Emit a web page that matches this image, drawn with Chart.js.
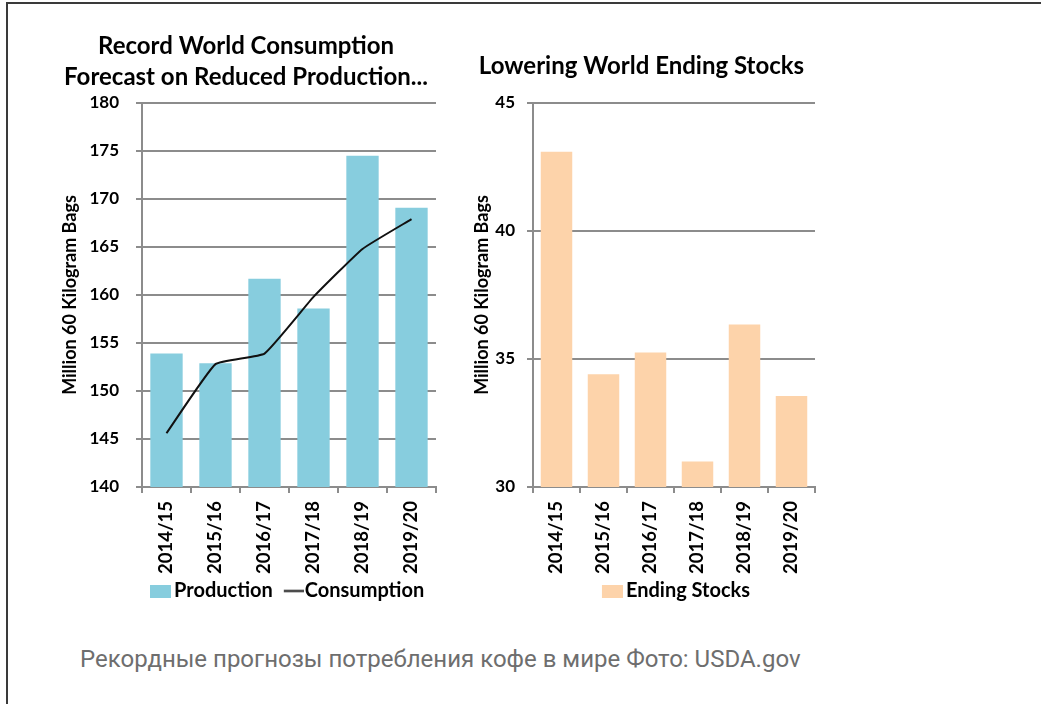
<!DOCTYPE html>
<html>
<head>
<meta charset="utf-8">
<script src="https://cdn.jsdelivr.net/npm/chart.js@4.4.1/dist/chart.umd.min.js"></script>
<style>
  html, body { margin: 0; padding: 0; background: #fff; }
  body { width: 1041px; height: 704px; position: relative; overflow: hidden; }
  #frame { position: absolute; left: 6px; top: 2px; width: 1100px; height: 760px;
           border-top: 2px solid #3a3a3a; border-left: 2px solid #3a3a3a; }
  #c1 { position: absolute; left: 0; top: 0; }
  #c2 { position: absolute; left: 460px; top: 0; }
  #caption { position: absolute; left: 80px; top: 645px; font-family: Roboto, sans-serif;
             font-size: 24px; color: #6e6e6e; white-space: nowrap; }
</style>
</head>
<body>
<div id="frame"></div>
<canvas id="c1" width="492" height="611"></canvas>
<canvas id="c2" width="400" height="611"></canvas>
<div id="caption">Рекордные прогнозы потребления кофе в мире Фото: USDA.gov</div>
<script>
// ---- data ----
const categories = ['2014/15', '2015/16', '2016/17', '2017/18', '2018/19', '2019/20'];
const production = [153.9, 152.9, 161.7, 158.6, 174.5, 169.1];
const consumption = [145.6, 152.8, 153.9, 159.8, 164.8, 167.9];
const endingStocks = [43.1, 34.4, 35.25, 31.0, 36.35, 33.55];
const leftTitle = ['Record World Consumption', 'Forecast on Reduced Production...'];
const rightTitle = 'Lowering World Ending Stocks';
const yAxisTitle = 'Million 60 Kilogram Bags';
const leftTicks = [140, 145, 150, 155, 160, 165, 170, 175, 180];
const rightTicks = [30, 35, 40, 45];

// ---- styles ----
const BLUE = '#87CDDE';
const PEACH = '#FDD3AA';
const GRID = '#8c8c8c';
const FONT = 'Lato';

// legend marker image: transparent on the left, visible mark on the right
function swatch(kind, color, imgW) {
  const c = document.createElement('canvas');
  c.width = imgW; c.height = 13;
  const g = c.getContext('2d');
  g.fillStyle = color;
  if (kind === 'box') g.fillRect(imgW - 21, 0, 21, 13);
  else g.fillRect(imgW - 20, 5.5, 20, 2);
  return c;
}

function yScale(min, max, ticks, width, pad) {
  return {
    min: min, max: max,
    afterBuildTicks: (s) => { s.ticks = ticks.map(v => ({ value: v })); },
    afterFit: (s) => { s.width = width; },
    grid: { color: GRID, lineWidth: 2, tickLength: 6, drawTicks: true },
    border: { display: true, color: GRID, width: 2 },
    ticks: { color: '#000', padding: pad, font: { family: FONT, weight: 'bold', size: 17 } },
    title: { display: true, text: yAxisTitle, color: '#000', padding: { top: 3.2, bottom: 0 },
             font: { family: FONT, weight: 'bold', size: 18 } }
  };
}
function xScale() {
  return {
    offset: true,
    afterFit: (s) => { s.height = 90; },
    grid: { offset: true, drawOnChartArea: false, drawTicks: true, tickLength: 6, color: GRID, lineWidth: 2 },
    border: { display: true, color: GRID, width: 2 },
    ticks: { color: '#000', maxRotation: 90, minRotation: 90, padding: 8, autoSkip: false,
             font: { family: FONT, weight: 'bold', size: 18.5 } }
  };
}
function legendOpts(items, align) {
  return {
    position: 'bottom', fullSize: false, align: align,
    labels: {
      usePointStyle: true, pointStyleWidth: 18, padding: 4, color: '#000',
      font: { family: FONT, weight: 'bold', size: 20 },
      generateLabels: () => items
    }
  };
}

function draw() {
  new Chart(document.getElementById('c1'), {
    data: {
      labels: categories,
      datasets: [
        { type: 'line', label: 'Consumption', data: consumption, borderColor: '#111', borderWidth: 2,
          pointRadius: 0, tension: 0.12, fill: false, order: 0 },
        { type: 'bar', label: 'Production', data: production, backgroundColor: BLUE,
          barPercentage: 0.66, categoryPercentage: 1, order: 1 }
      ]
    },
    options: {
      responsive: false, animation: false, devicePixelRatio: 1,
      layout: { padding: { left: 56, right: 56, top: 0, bottom: 0 } },
      scales: { x: xScale(), y: yScale(140, 180, leftTicks, 86, 17) },
      plugins: {
        tooltip: { enabled: false },
        title: { display: true, text: leftTitle, color: '#000',
                 font: { family: FONT, weight: 'bold', size: 24, lineHeight: '31px' },
                 padding: { top: 30.5, bottom: 10.5 } },
        legend: legendOpts([
          { text: 'Production', pointStyle: swatch('box', BLUE, 32), datasetIndex: 1, fontColor: '#000', lineWidth: 0, strokeStyle: 'rgba(0,0,0,0)', fillStyle: BLUE },
          { text: 'Consumption', pointStyle: swatch('line', '#111', 36), datasetIndex: 0, fontColor: '#000', lineWidth: 0, strokeStyle: 'rgba(0,0,0,0)', fillStyle: '#111' }
        ], 'start')
      }
    }
  });

  new Chart(document.getElementById('c2'), {
    type: 'bar',
    data: {
      labels: categories,
      datasets: [
        { label: 'Ending Stocks', data: endingStocks, backgroundColor: PEACH,
          barPercentage: 0.67, categoryPercentage: 1 }
      ]
    },
    options: {
      responsive: false, animation: false, devicePixelRatio: 1,
      layout: { padding: { left: 8, right: 45, top: 0, bottom: 0 } },
      scales: { x: xScale(), y: yScale(30, 45, rightTicks, 65, 12) },
      plugins: {
        tooltip: { enabled: false },
        title: { display: true, text: rightTitle, color: '#000',
                 font: { family: FONT, weight: 'bold', size: 24, lineHeight: '31px' },
                 padding: { top: 50.5, bottom: 21.5 } },
        legend: legendOpts([
          { text: 'Ending Stocks', pointStyle: swatch('box', PEACH, 32), datasetIndex: 0, fontColor: '#000', lineWidth: 0, strokeStyle: 'rgba(0,0,0,0)', fillStyle: PEACH }
        ], 'center')
      }
    }
  });
}

if (document.fonts && document.fonts.load) {
  Promise.all([
    document.fonts.load('bold 17px Lato'),
    document.fonts.load('24px Roboto')
  ]).then(draw, draw);
} else { draw(); }
</script>
</body>
</html>
